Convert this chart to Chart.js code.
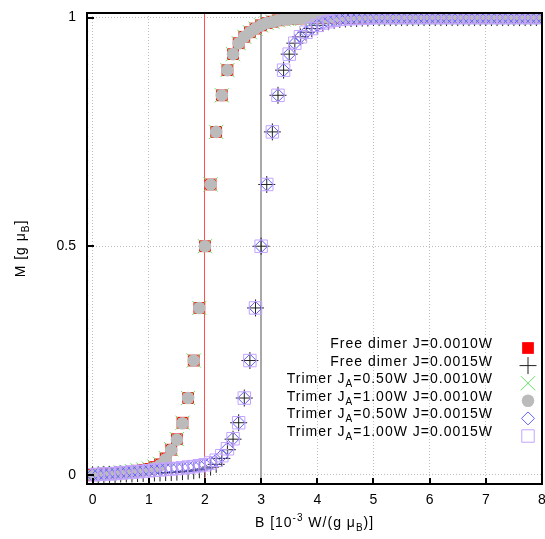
<!DOCTYPE html>
<html>
<head>
<meta charset="utf-8">
<script src="https://cdn.jsdelivr.net/npm/chart.js@4.4.1/dist/chart.umd.min.js"></script>
<style>
  html, body { margin: 0; padding: 0; background: #fff; overflow: hidden; }
  canvas { display: block; }
</style>
</head>
<body>
<canvas id="magChart" width="545" height="539"></canvas>
<script>
// --- DATA ---
const bField = [
  0.0, 0.1, 0.2, 0.3, 0.4, 0.5, 0.6, 0.7, 0.8, 0.9,
  1.0, 1.1, 1.2, 1.3, 1.4, 1.5, 1.6, 1.7, 1.8, 1.9,
  2.0, 2.1, 2.2, 2.3, 2.4, 2.5, 2.6, 2.7, 2.8, 2.9,
  3.0, 3.1, 3.2, 3.3, 3.4, 3.5, 3.6, 3.7, 3.8, 3.9,
  4.0, 4.1, 4.2, 4.3, 4.4, 4.5, 4.6, 4.7, 4.8, 4.9,
  5.0, 5.1, 5.2, 5.3, 5.4, 5.5, 5.6, 5.7, 5.8, 5.9,
  6.0, 6.1, 6.2, 6.3, 6.4, 6.5, 6.6, 6.7, 6.8, 6.9,
  7.0, 7.1, 7.2, 7.3, 7.4, 7.5, 7.6, 7.7, 7.8, 7.9,
  8.0
];

// free dimer J=0.0010W
const mDimer10 = [
  0, 0.001, 0.002, 0.003, 0.004, 0.005, 0.006, 0.007, 0.009, 0.011,
  0.013, 0.017, 0.023, 0.036, 0.055, 0.078, 0.114, 0.168, 0.25, 0.365,
  0.5, 0.635, 0.75, 0.83, 0.885, 0.92, 0.944, 0.958, 0.968, 0.976,
  0.983, 0.988, 0.991, 0.994, 0.996, 0.997, 0.998, 0.998, 0.999, 0.999,
  1, 1, 1, 1, 1, 1, 1, 1, 1, 1,
  1, 1, 1, 1, 1, 1, 1, 1, 1, 1,
  1, 1, 1, 1, 1, 1, 1, 1, 1, 1,
  1, 1, 1, 1, 1, 1, 1, 1, 1, 1,
  1
];
// free dimer J=0.0015W
const mDimer15 = [
  0, 0, 0.001, 0.001, 0.001, 0.002, 0.002, 0.002, 0.003, 0.003,
  0.003, 0.004, 0.004, 0.005, 0.005, 0.006, 0.007, 0.008, 0.009, 0.011,
  0.013, 0.017, 0.023, 0.036, 0.055, 0.078, 0.114, 0.168, 0.25, 0.365,
  0.5, 0.635, 0.75, 0.83, 0.885, 0.92, 0.944, 0.958, 0.968, 0.976,
  0.983, 0.988, 0.991, 0.994, 0.996, 0.997, 0.998, 0.998, 0.999, 0.999,
  1, 1, 1, 1, 1, 1, 1, 1, 1, 1,
  1, 1, 1, 1, 1, 1, 1, 1, 1, 1,
  1, 1, 1, 1, 1, 1, 1, 1, 1, 1,
  1
];
// trimer JA=0.50W J=0.0010W
const mTrimer05J10 = [
  0, 0.001, 0.002, 0.003, 0.004, 0.005, 0.006, 0.008, 0.010, 0.012,
  0.014, 0.018, 0.024, 0.037, 0.056, 0.078, 0.114, 0.168, 0.25, 0.365,
  0.5, 0.635, 0.75, 0.83, 0.885, 0.92, 0.944, 0.958, 0.968, 0.976,
  0.983, 0.988, 0.991, 0.994, 0.996, 0.997, 0.998, 0.998, 0.999, 0.999,
  1, 1, 1, 1, 1, 1, 1, 1, 1, 1,
  1, 1, 1, 1, 1, 1, 1, 1, 1, 1,
  1, 1, 1, 1, 1, 1, 1, 1, 1, 1,
  1, 1, 1, 1, 1, 1, 1, 1, 1, 1,
  1
];
// trimer JA=1.00W J=0.0010W
const mTrimer10J10 = [
  0, 0.001, 0.001, 0.002, 0.003, 0.004, 0.005, 0.006, 0.007, 0.009,
  0.011, 0.015, 0.021, 0.034, 0.054, 0.077, 0.113, 0.168, 0.25, 0.365,
  0.5, 0.635, 0.75, 0.83, 0.885, 0.92, 0.944, 0.958, 0.968, 0.976,
  0.983, 0.988, 0.991, 0.994, 0.996, 0.997, 0.998, 0.998, 0.999, 0.999,
  1, 1, 1, 1, 1, 1, 1, 1, 1, 1,
  1, 1, 1, 1, 1, 1, 1, 1, 1, 1,
  1, 1, 1, 1, 1, 1, 1, 1, 1, 1,
  1, 1, 1, 1, 1, 1, 1, 1, 1, 1,
  1
];
// trimer JA=0.50W J=0.0015W
const mTrimer05J15 = [
  0, 0.001, 0.002, 0.003, 0.004, 0.005, 0.006, 0.007, 0.008, 0.009,
  0.010, 0.011, 0.012, 0.013, 0.014, 0.015, 0.016, 0.017, 0.018, 0.020,
  0.022, 0.026, 0.032, 0.042, 0.057, 0.079, 0.114, 0.168, 0.25, 0.365,
  0.5, 0.635, 0.75, 0.83, 0.885, 0.92, 0.944, 0.958, 0.968, 0.976,
  0.983, 0.988, 0.991, 0.994, 0.996, 0.997, 0.998, 0.998, 0.999, 0.999,
  1, 1, 1, 1, 1, 1, 1, 1, 1, 1,
  1, 1, 1, 1, 1, 1, 1, 1, 1, 1,
  1, 1, 1, 1, 1, 1, 1, 1, 1, 1,
  1
];
// trimer JA=1.00W J=0.0015W
const mTrimer10J15 = [
  0, 0.001, 0.002, 0.002, 0.003, 0.004, 0.005, 0.006, 0.007, 0.008,
  0.009, 0.010, 0.011, 0.012, 0.013, 0.014, 0.015, 0.017, 0.018, 0.020,
  0.022, 0.026, 0.032, 0.042, 0.057, 0.079, 0.114, 0.168, 0.25, 0.365,
  0.5, 0.635, 0.75, 0.83, 0.885, 0.92, 0.944, 0.958, 0.968, 0.976,
  0.983, 0.988, 0.991, 0.994, 0.996, 0.997, 0.998, 0.998, 0.999, 0.999,
  1, 1, 1, 1, 1, 1, 1, 1, 1, 1,
  1, 1, 1, 1, 1, 1, 1, 1, 1, 1,
  1, 1, 1, 1, 1, 1, 1, 1, 1, 1,
  1
];

const seriesNames = [
  'Free dimer J=0.0010W',
  'Free dimer J=0.0015W',
  'Trimer J_{A}=0.50W J=0.0010W',
  'Trimer J_{A}=1.00W J=0.0010W',
  'Trimer J_{A}=0.50W J=0.0015W',
  'Trimer J_{A}=1.00W J=0.0015W'
];
const xTicks = [0, 1, 2, 3, 4, 5, 6, 7, 8];
const yTicks = [0, 0.5, 1];
const criticalFields = [2, 3]; // 2J for J=0.0010W and J=0.0015W
const xTitle = 'B [10^{-3} W/(g \u03bc_{B})]';
const yTitle = 'M [g \u03bc_{B}]';

const FONT = '"Liberation Sans", Arial, sans-serif';

// --- SERIES STYLES (gnuplot look) ---
const seriesValues = [mDimer10, mDimer15, mTrimer05J10, mTrimer10J10, mTrimer05J15, mTrimer10J15];
const looks = [
  { pointStyle: 'rect',     radius: 8.3, backgroundColor: '#ff0000', borderColor: '#ff0000', borderWidth: 0 },
  { pointStyle: 'cross',    radius: 8.5, backgroundColor: 'rgba(0,0,0,0)', borderColor: '#222222', borderWidth: 1 },
  { pointStyle: 'crossRot', radius: 10,  backgroundColor: 'rgba(0,0,0,0)', borderColor: '#66dd66', borderWidth: 1 },
  { pointStyle: 'circle',   radius: 6.3, backgroundColor: '#bbbbbb', borderColor: '#bbbbbb', borderWidth: 0 },
  { pointStyle: 'rectRot',  radius: 6.5, backgroundColor: 'rgba(0,0,0,0)', borderColor: '#6060ff', borderWidth: 1 },
  { pointStyle: 'rect',     radius: 8.8, backgroundColor: 'rgba(0,0,0,0)', borderColor: '#c4a4ff', borderWidth: 1 }
];
const markLineColors = ['#ff5050', '#a8a8a8'];
const markLineWidths = [1, 2];

const datasets = seriesValues.map((vals, i) => ({
  label: seriesNames[i].replace(/_\{([^}]*)\}/g, '$1'),
  data: bField.map((b, k) => ({ x: b, y: vals[k] })),
  showLine: false,
  pointStyle: looks[i].pointStyle,
  pointRadius: looks[i].radius,
  pointBackgroundColor: looks[i].backgroundColor,
  pointBorderColor: looks[i].borderColor,
  pointBorderWidth: looks[i].borderWidth,
  order: seriesValues.length - i  // later series on top, like gnuplot
}));

// --- TEXT HELPERS (sub/superscripts) ---
function splitRich(str) {
  return str.split(/(_\{[^}]*\}|\^\{[^}]*\})/).filter(s => s).map(s => {
    if (s[0] === '_') return { t: s.slice(2, -1), dy: 4, size: 10 };
    if (s[0] === '^') return { t: s.slice(2, -1), dy: -6, size: 10 };
    return { t: s, dy: 0, size: 14 };
  });
}

function drawRich(ctx, str, x, y, align) {
  const parts = splitRich(str);
  ctx.save();
  ctx.letterSpacing = '1px';
  let w = 0;
  parts.forEach(p => { ctx.font = p.size + 'px ' + FONT; w += ctx.measureText(p.t).width; });
  let cx = align === 'right' ? x - w : (align === 'center' ? x - w / 2 : x);
  ctx.textAlign = 'left';
  ctx.textBaseline = 'alphabetic';
  ctx.fillStyle = '#000';
  parts.forEach(p => {
    ctx.font = p.size + 'px ' + FONT;
    ctx.fillText(p.t, cx, y + p.dy);
    cx += ctx.measureText(p.t).width;
  });
  ctx.restore();
}

// --- PLUGIN: frame, inward ticks, marker lines, titles, key ---
const gnuplotDecor = {
  id: 'gnuplotDecor',
  beforeDatasetsDraw(chart) {
    const { ctx, chartArea: a, scales: { x } } = chart;
    ctx.save();
    criticalFields.forEach((b, i) => {
      const w = markLineWidths[i];
      const px = Math.round(x.getPixelForValue(b) - w / 2);
      ctx.fillStyle = markLineColors[i];
      ctx.fillRect(px, a.top, w, a.bottom - a.top);
    });
    ctx.restore();
  },
  afterDatasetsDraw(chart) {
    const { ctx, chartArea: a, scales: { x, y } } = chart;
    ctx.save();
    ctx.setLineDash([]);
    ctx.strokeStyle = '#000';
    ctx.lineWidth = 2;
    ctx.strokeRect(a.left, a.top, a.right - a.left, a.bottom - a.top);
    ctx.beginPath();
    xTicks.forEach(v => {
      const px = Math.round(x.getPixelForValue(v));
      ctx.moveTo(px, a.bottom);
      ctx.lineTo(px, a.bottom - 6);
    });
    yTicks.forEach(v => {
      const py = Math.round(y.getPixelForValue(v));
      ctx.moveTo(a.left, py);
      ctx.lineTo(a.left + 7, py);
    });
    ctx.stroke();
    ctx.restore();

    // axis titles
    drawRich(ctx, xTitle, (a.left + a.right) / 2, 527, 'center');
    ctx.save();
    ctx.translate(25, (a.top + a.bottom) / 2);
    ctx.rotate(-Math.PI / 2);
    drawRich(ctx, yTitle, 0, 0, 'center');
    ctx.restore();

    // key
    const keyRight = 493, keyMarkX = 528, keyTop = 348, keyStep = 17.6;
    seriesNames.forEach((name, i) => {
      const ty = keyTop + i * keyStep;
      drawRich(ctx, name, keyRight, ty, 'right');
      const lk = looks[i];
      ctx.save();
      ctx.setLineDash([]);
      ctx.fillStyle = lk.backgroundColor;
      ctx.strokeStyle = lk.borderColor;
      ctx.lineWidth = lk.borderWidth;
      Chart.helpers.drawPoint(ctx, {
        pointStyle: lk.pointStyle, radius: lk.radius, rotation: 0, borderWidth: lk.borderWidth
      }, keyMarkX, ty);
      ctx.restore();
    });
  }
};

// --- CHART ---
new Chart(document.getElementById('magChart'), {
  type: 'scatter',
  data: { datasets },
  plugins: [gnuplotDecor],
  options: {
    responsive: false,
    animation: false,
    devicePixelRatio: 1,
    events: [],
    layout: { autoPadding: false, padding: { left: 0, right: 3, top: 13, bottom: 0 } },
    plugins: { legend: { display: false }, tooltip: { enabled: false } },
    scales: {
      x: {
        type: 'linear',
        min: -0.1,
        max: 8,
        afterBuildTicks: s => { s.ticks = xTicks.map(v => ({ value: v })); },
        afterFit: s => { s.height = 55; s.paddingLeft = 0; s.paddingRight = 0; },
        ticks: {
          font: { family: FONT, size: 14 },
          color: '#000',
          padding: 8,
          maxRotation: 0,
          autoSkip: false,
          callback: v => String(v)
        },
        grid: { color: '#bdbdbd', lineWidth: 1, drawTicks: false },
        border: { display: false, dash: [1, 2] }
      },
      y: {
        type: 'linear',
        min: -0.02,
        max: 1.01,
        afterBuildTicks: s => { s.ticks = yTicks.map(v => ({ value: v })); },
        afterFit: s => { s.width = 87; s.paddingTop = 0; s.paddingBottom = 0; },
        ticks: {
          font: { family: FONT, size: 14 },
          color: '#000',
          padding: 11,
          callback: v => String(v)
        },
        grid: { color: '#bdbdbd', lineWidth: 1, drawTicks: false },
        border: { display: false, dash: [1, 2] }
      }
    }
  }
});
</script>
</body>
</html>
